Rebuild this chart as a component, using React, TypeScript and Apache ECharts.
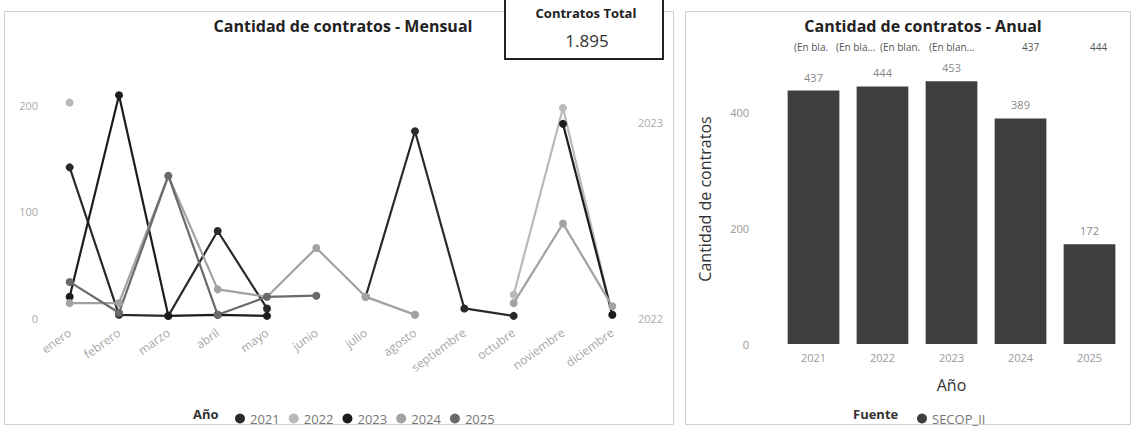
import React, { useEffect, useRef } from "react";
import * as echarts from "echarts";

const months = ["enero", "febrero", "marzo", "abril", "mayo", "junio", "julio", "agosto", "septiembre", "octubre", "noviembre", "diciembre"];
const years = ["2021", "2022", "2023", "2024", "2025"];
const v2021 = [142, 3, 2, 82, 9, null, 20, 176, 9, 2, null, null];
const v2022 = [203, null, null, null, null, null, 20, 3, null, 22, 198, 3];
const v2023 = [20, 210, 2, 3, 2, null, null, null, null, null, 183, 3];
const v2024 = [14, 14, 134, 27, 20, 66, 20, 3, null, 14, 89, 11];
const v2025 = [34, 5, 134, 3, 20, 21, null, null, null, null, null, null];
const monthlySeries = [v2021, v2022, v2023, v2024, v2025];
const yearColors = ["#2a2a2a", "#b9b9b9", "#1c1c1c", "#a2a2a2", "#6a6a6a"];

const annualCats = ["2021", "2022", "2023", "2024", "2025"];
const annualValues = [437, 444, 453, 389, 172];
const topLabels = ["(En bla.", "(En bla...", "(En blan.", "(En blan...", "437", "444"];
const totalLabel = "1.895";

const FONT = "'Open Sans', 'Noto Sans', sans-serif";

export default function App() {
  const ref = useRef<HTMLDivElement>(null);
  useEffect(() => {
    if (!ref.current) return;
    const chart = echarts.init(ref.current, undefined, { renderer: "svg" });
    const topLabelX = [794, 836, 880, 929, 1022, 1090];
    const option: any = {
      animation: false,
      backgroundColor: "#ffffff",
      textStyle: { fontFamily: FONT },
      title: [
        { text: "Cantidad de contratos - Mensual", left: 338, top: 13, textAlign: "center", textStyle: { fontSize: 16, fontWeight: "bold", color: "#222", fontFamily: FONT } },
        { text: "Cantidad de contratos - Anual", left: 918, top: 13, textAlign: "center", textStyle: { fontSize: 16, fontWeight: "bold", color: "#222", fontFamily: FONT } },
      ],
      legend: [
        {
          data: years, left: 230, top: 407, icon: "circle", itemWidth: 10, itemHeight: 10, itemGap: 9,
          textStyle: { color: "#777", fontSize: 13, fontFamily: FONT },
        },
        {
          data: ["SECOP_II"], left: 912, top: 407, icon: "circle", itemWidth: 10, itemHeight: 10,
          textStyle: { color: "#777", fontSize: 13, fontFamily: FONT },
        },
      ],
      grid: [
        { left: 45, top: 74, width: 592, height: 244 },
        { left: 779, top: 54, width: 345, height: 290 },
      ],
      xAxis: [
        {
          type: "category", gridIndex: 0, data: months, boundaryGap: true,
          axisLine: { show: false }, axisTick: { show: false },
          axisLabel: { rotate: 36, color: "#a6a6a6", fontSize: 12, margin: 13, interval: 0 },
        },
        {
          type: "category", gridIndex: 1, data: annualCats,
          axisLine: { show: false }, axisTick: { show: false },
          axisLabel: { color: "#999", fontSize: 11, margin: 8 },
          name: "Año", nameLocation: "middle", nameGap: 33,
          nameTextStyle: { fontSize: 16, color: "#333" },
        },
      ],
      yAxis: [
        {
          type: "value", gridIndex: 0, min: 0, max: 230, interval: 100,
          splitLine: { show: false }, axisLine: { show: false }, axisTick: { show: false },
          axisLabel: { color: "#aaa", fontSize: 11, margin: 7, formatter: (v: number) => (v % 100 === 0 ? String(v) : "") },
        },
        {
          type: "value", gridIndex: 0, position: "right", min: 2022, max: 2023.25, interval: 1,
          splitLine: { show: false }, axisLine: { show: false }, axisTick: { show: false },
          axisLabel: { color: "#aaa", fontSize: 11, margin: 1, formatter: (v: number) => (Number.isInteger(v) ? String(v) : "") },
        },
        {
          type: "value", gridIndex: 1, min: 0, max: 500, interval: 200,
          splitLine: { show: false }, axisLine: { show: false }, axisTick: { show: false },
          axisLabel: { color: "#999", fontSize: 11, margin: 30, formatter: (v: number) => (v % 200 === 0 ? String(v) : "") },
          name: "Cantidad de contratos", nameLocation: "middle", nameGap: 66,
          nameTextStyle: { fontSize: 16, color: "#333" },
        },
      ],
      series: [
        ...years.map((y, i) => ({
          name: y, type: "line", xAxisIndex: 0, yAxisIndex: 0, data: monthlySeries[i],
          symbol: "circle", symbolSize: 8, connectNulls: false,
          itemStyle: { color: yearColors[i] },
          lineStyle: { color: yearColors[i], width: 2.2 },
        })),
        {
          name: "SECOP_II", type: "bar", xAxisIndex: 1, yAxisIndex: 2, data: annualValues,
          barCategoryGap: "25%",
          itemStyle: { color: "#3c3f3e" },
          label: { show: true, position: "top", distance: 8, color: "#888", fontSize: 11 },
        },
      ],
      graphic: [
        { type: "rect", shape: { x: 4.5, y: 11.5, width: 669, height: 413 }, style: { fill: "none", stroke: "#cfcfcf", lineWidth: 1 }, silent: true },
        { type: "rect", shape: { x: 685.5, y: 11.5, width: 445, height: 413 }, style: { fill: "none", stroke: "#cfcfcf", lineWidth: 1 }, silent: true },
        { type: "rect", shape: { x: 505, y: -4, width: 158, height: 63 }, style: { fill: "#fff", stroke: "#222", lineWidth: 2 }, silent: true },
        { type: "text", x: 586, y: 13, style: { text: "Contratos Total", fill: "#222", font: `bold 13px ${FONT}`, textAlign: "center", textVerticalAlign: "middle" } },
        { type: "text", x: 587, y: 40, style: { text: totalLabel, fill: "#333", font: `17px ${FONT}`, textAlign: "center", textVerticalAlign: "middle" } },
        { type: "text", x: 193, y: 414, style: { text: "Año", fill: "#333", font: `bold 13px ${FONT}`, textAlign: "left", textVerticalAlign: "middle" } },
        { type: "text", x: 853, y: 414, style: { text: "Fuente", fill: "#333", font: `bold 13px ${FONT}`, textAlign: "left", textVerticalAlign: "middle" } },
        ...topLabels.map((t, i) => ({
          type: "text", x: topLabelX[i], y: 47,
          style: { text: t, fill: "#555", font: `10px ${FONT}`, textAlign: "left", textVerticalAlign: "middle" },
        })),
      ],
    };
    chart.setOption(option);
    return () => chart.dispose();
  }, []);
  return <div ref={ref} style={{ position: "fixed", left: 0, top: 0, width: 1135, height: 428 }} />;
}
